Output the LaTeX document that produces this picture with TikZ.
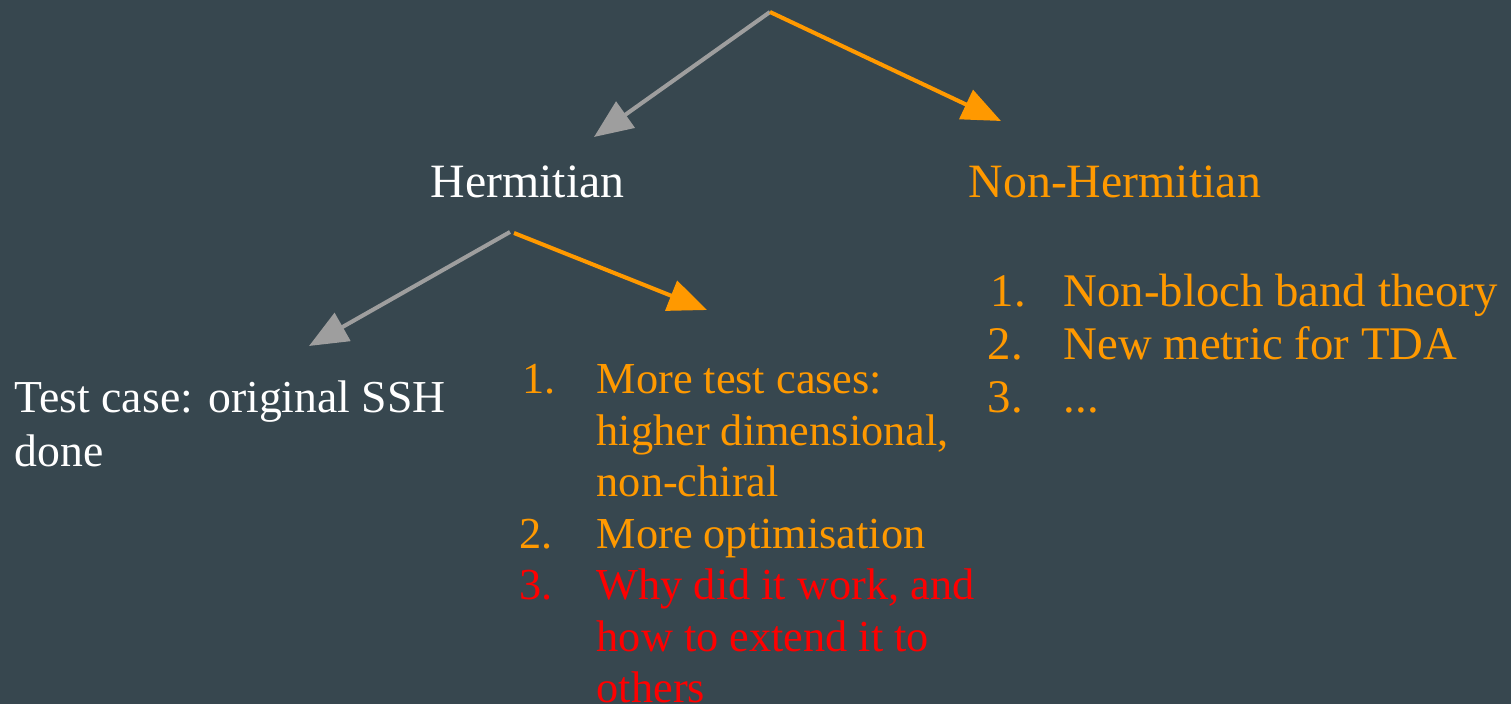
\documentclass[tikz,border=0pt]{standalone}
\usepackage{fontspec}
\setmainfont{Liberation Serif}
\usetikzlibrary{arrows.meta}
\definecolor{slate}{HTML}{37474F}
\definecolor{amber}{HTML}{FF9900}
\definecolor{ash}{HTML}{9E9E9E}
\definecolor{alarm}{HTML}{FF0000}
\tikzset{
  txt/.style={anchor=base west, inner sep=0pt, align=left},
  head/.style={txt, font=\fontsize{13.6}{16}\selectfont},
  item/.style={txt, font=\fontsize{12.6}{14.65}\selectfont},
  ritem/.style={txt, font=\fontsize{13.3}{15.1}\selectfont},
  link/.style={line width=1.15pt, -{Triangle[length=11pt, width=9pt]}},
}

\begin{document}
\begin{tikzpicture}[x=0.01cm, y=-0.01cm]
  \fill[slate] (0,0) rectangle (1511,704);
  \useasboundingbox (0,0) rectangle (1511,704);
  % arrow ends
  \coordinate (root) at (770,12);
  \coordinate (hroot) at (510,232);
  \coordinate (hroot2) at (514,233);
  \coordinate (htip) at (594,137);
  \coordinate (ntip) at (1001,121);
  \coordinate (ltip) at (309,346);
  \coordinate (rtip) at (707,310);
  % headings
  \node[head, white] (herm) at (430,198) {Hermitian};
  \node[head, amber] (nonherm) at (968,198) {Non-Hermitian};
  % left leaf (base = last line)
  \node[txt, white, font=\fontsize{13}{15.4}\selectfont] (ssh) at (14,467)
    {Test case: original SSH\\done};
  % middle list
  \node[item, amber] (m1n) at (522,394) {1.};
  \node[item, amber] (m1) at (596,497) {More test cases:\\higher dimensional,\\non-chiral};
  \node[item, amber] (m2n) at (519,548.5) {2.};
  \node[item, amber] (m2) at (596,548.5) {More optimisation};
  \node[item, alarm] (m3n) at (519,600) {3.};
  \node[item, alarm] (m3) at (596,703) {Why did it work, and\\how to extend it to\\others};
  % right list
  \node[ritem, amber] (r1n) at (990,307) {1.};
  \node[ritem, amber] (r1) at (1063,307) {Non-bloch band theory};
  \node[ritem, amber] (r2n) at (987,360) {2.};
  \node[ritem, amber] (r2) at (1063,360) {New metric for TDA};
  \node[ritem, amber] (r3n) at (987,413) {3.};
  \node[ritem, amber] (r3) at (1063,413) {...};
  % arrows
  \draw[link, ash] (root) -- (htip);
  \draw[link, amber] (root) -- (ntip);
  \draw[link, ash] (hroot) -- (ltip);
  \draw[link, amber] (hroot2) -- (rtip);
\end{tikzpicture}
\end{document}
